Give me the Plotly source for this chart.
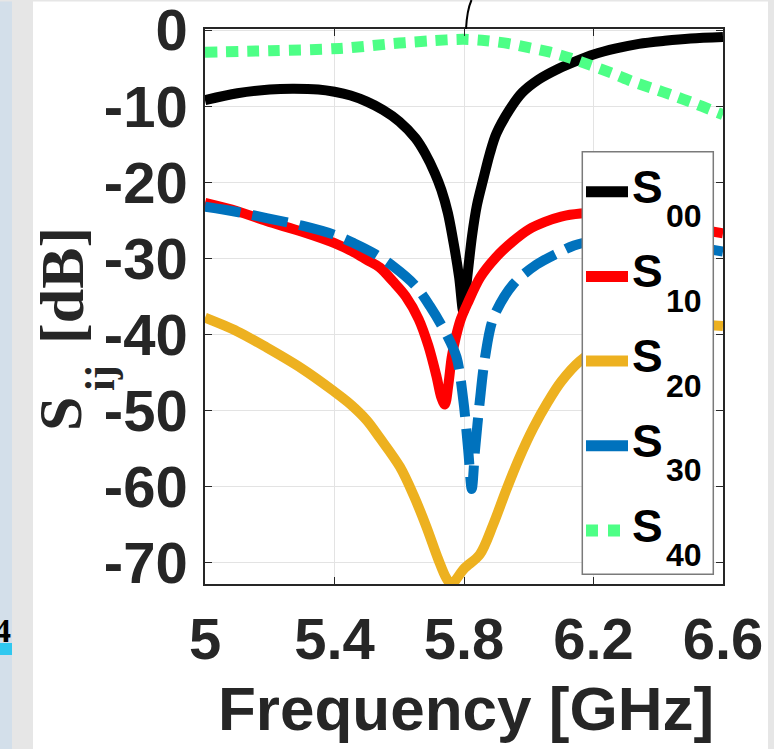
import plotly.graph_objects as go

# ---------------- data ----------------
f_s00 = [5.00, 5.10, 5.20, 5.27, 5.35, 5.40, 5.45, 5.50, 5.55, 5.60, 5.65, 5.68, 5.71, 5.73,
         5.75, 5.77, 5.785, 5.798, 5.81, 5.825, 5.84, 5.86, 5.88, 5.90, 5.94, 5.98, 6.03,
         6.09, 6.15, 6.20, 6.27, 6.34, 6.42, 6.50, 6.60]
s00 = [-9.2, -8.3, -7.8, -7.7, -7.8, -8.1, -8.6, -9.4, -10.5, -12.0, -14.2, -16.2, -18.8, -21.0,
       -24.0, -28.5, -32.5, -37.0, -32.5, -27.0, -23.0, -19.5, -16.2, -13.6, -10.5, -8.2, -6.5,
       -5.1, -4.0, -3.2, -2.4, -1.8, -1.4, -1.1, -0.9]

f_s10 = [5.00, 5.10, 5.19, 5.30, 5.40, 5.46, 5.50, 5.54, 5.58, 5.62, 5.66, 5.69, 5.715, 5.73,
         5.741, 5.752, 5.762, 5.775, 5.79, 5.81, 5.85, 5.90, 5.95, 6.00, 6.05, 6.10, 6.16,
         6.22, 6.30, 6.40, 6.50, 6.60]
s10 = [-22.7, -23.8, -25.1, -26.5, -28.0, -29.2, -30.2, -31.2, -33.0, -35.0, -38.0, -41.5, -45.5, -48.3,
       -49.2, -46.5, -43.0, -40.3, -38.0, -36.0, -32.5, -29.8, -27.8, -26.2, -25.2, -24.5, -24.1,
       -24.0, -24.4, -25.2, -26.0, -26.7]

f_s20 = [5.00, 5.10, 5.19, 5.30, 5.396, 5.45, 5.50, 5.54, 5.602, 5.645, 5.684, 5.72, 5.745, 5.761,
         5.80, 5.849, 5.89, 5.93, 5.97, 6.014, 6.06, 6.10, 6.158, 6.25, 6.35, 6.45, 6.60]
s20 = [-37.8, -39.6, -41.7, -44.5, -47.4, -49.2, -51.3, -53.6, -57.4, -61.2, -65.3, -69.5, -72.0, -72.8,
       -70.8, -68.9, -65.0, -60.5, -56.3, -52.3, -48.8, -46.2, -43.5, -41.0, -39.5, -38.7, -38.9]

f_s30 = [5.00, 5.10, 5.19, 5.30, 5.40, 5.46, 5.52, 5.58, 5.65, 5.695, 5.746, 5.777, 5.798, 5.813,
         5.824, 5.834, 5.849, 5.865, 5.891, 5.952, 6.025, 6.09, 6.14, 6.20, 6.28, 6.38, 6.50, 6.60]
s30 = [-23.2, -23.9, -24.7, -25.7, -26.9, -28.0, -29.3, -31.0, -33.6, -36.3, -40.0, -43.0, -48.7, -55.2,
       -60.3, -55.2, -48.7, -43.0, -37.8, -33.4, -30.8, -29.3, -28.3, -27.7, -27.4, -27.7, -28.4, -29.1]

f_s40 = [5.00, 5.20, 5.417, 5.60, 5.70, 5.80, 5.87, 5.942, 6.00, 6.066, 6.13, 6.19, 6.26, 6.323,
         6.385, 6.446, 6.51, 6.57, 6.60]
s40 = [-2.9, -2.7, -2.4, -1.7, -1.4, -1.2, -1.4, -1.8, -2.3, -2.9, -3.7, -4.6, -5.7, -6.8,
       -7.7, -8.6, -9.6, -10.6, -11.1]

series_names = ["00", "10", "20", "30", "40"]
x_ticks = [5.0, 5.4, 5.8, 6.2, 6.6]
x_ticktext = ["5", "5.4", "5.8", "6.2", "6.6"]
y_ticks = [-70, -60, -50, -40, -30, -20, -10, 0]
y_ticktext = ["-70", "-60", "-50", "-40", "-30", "-20", "-10", "0"]

# ---------------- styling ----------------
W, H = 774, 749
L, R, T, B = 205, 51, 29, 165
PW, PH = W - L - R, H - T - B

def px(x):
    return (x - L) / PW

def py(y):
    return (T + PH - y) / PH

colors = ["#000000", "#FF0000", "#EDB120", "#0072BD", "#4DFF86"]
dashes = ["solid", "solid", "solid", "36px,12px", "12px,9px"]
lw = 10
SANS = "Liberation Sans"
SERIF = "Liberation Serif"
TXT = "#262626"

fig = go.Figure()
xs = [f_s00, f_s10, f_s20, f_s30, f_s40]
ys = [s00, s10, s20, s30, s40]
for i in range(5):
    fig.add_trace(go.Scatter(x=xs[i], y=ys[i], mode="lines",
                             line=dict(color=colors[i], width=lw if i != 4 else 11, dash=dashes[i],
                                       shape="spline", smoothing=0.9),
                             showlegend=False, hoverinfo="skip"))

axis_common = dict(showline=True, linecolor=TXT, linewidth=1.5, mirror="ticks",
                   ticks="inside", ticklen=7, tickwidth=1.2, tickcolor=TXT,
                   showgrid=True, gridcolor="#e3e3e3", gridwidth=1, zeroline=False,
                   ticklabeloverflow="allow", automargin=False,
                   tickfont=dict(family=SANS, size=58, color=TXT, weight="bold"))

fig.update_xaxes(range=[5.0, 6.6], tickmode="array", tickvals=x_ticks, ticktext=x_ticktext,
                 ticklabelstandoff=4, **axis_common)
fig.update_yaxes(range=[-72.8, 0.15], tickmode="array", tickvals=y_ticks, ticktext=y_ticktext,
                 ticklabelstandoff=4, **axis_common)

shapes = []
annotations = []

# background window strips
shapes.append(dict(type="rect", xref="paper", yref="paper", x0=px(0), x1=px(12), y0=py(749), y1=py(0),
                   fillcolor="#d3dfea", line=dict(width=0), layer="below"))
shapes.append(dict(type="rect", xref="paper", yref="paper", x0=px(12), x1=px(33), y0=py(749), y1=py(0),
                   fillcolor="#e6e6e6", line=dict(width=0), layer="below"))
shapes.append(dict(type="rect", xref="paper", yref="paper", x0=px(768), x1=px(774), y0=py(749), y1=py(0),
                   fillcolor="#e6e6e6", line=dict(width=0), layer="below"))
shapes.append(dict(type="rect", xref="paper", yref="paper", x0=px(0), x1=px(774), y0=py(1.5), y1=py(0),
                   fillcolor="#e6e6e6", line=dict(width=0), layer="below"))
shapes.append(dict(type="rect", xref="paper", yref="paper", x0=px(0), x1=px(12), y0=py(655), y1=py(643),
                   fillcolor="#2fc8f0", line=dict(width=0), layer="below"))
annotations.append(dict(text="<b>4</b>", xref="paper", yref="paper", x=px(13), y=py(630),
                        xanchor="right", yanchor="middle", showarrow=False,
                        font=dict(family=SERIF, size=34, color="#000000")))

# thin curve above the axes
shapes.append(dict(type="path", xref="paper", yref="paper",
                   path=f"M {px(466)},{py(29)} Q {px(467)},{py(10)} {px(471.5)},{py(0)}",
                   line=dict(color="#000000", width=2), layer="above"))

# legend box
lx0, lx1, ly0, ly1 = 582.3, 713.3, 151.7, 574.3
shapes.append(dict(type="rect", xref="paper", yref="paper", x0=px(lx0), x1=px(lx1), y0=py(ly1), y1=py(ly0),
                   fillcolor="#ffffff", line=dict(color="#7a7a7a", width=1.5), layer="above"))
for k in range(5):
    yc = 191.7 + 84.7 * k
    shapes.append(dict(type="line", xref="paper", yref="paper", x0=px(586), x1=px(628) if k != 4 else px(620),
                       y0=py(yc), y1=py(yc),
                       line=dict(color=colors[k], width=11 if k != 4 else 12,
                                 dash="solid" if k != 4 else "12px,10px"),
                       layer="above"))
    annotations.append(dict(text="S", xref="paper", yref="paper", x=px(630), y=py(yc - 5),
                            xanchor="left", yanchor="middle", showarrow=False,
                            font=dict(family=SANS, size=46, color="#000000", weight="bold")))
    annotations.append(dict(text=series_names[k], xref="paper", yref="paper", x=px(664), y=py(yc + 24.5),
                            xanchor="left", yanchor="middle", showarrow=False,
                            font=dict(family=SANS, size=32, color="#000000", weight="bold")))

# axis titles
annotations.append(dict(text="Frequency [GHz]", xref="paper", yref="paper", x=px(466), y=py(708),
                        xanchor="center", yanchor="middle", showarrow=False,
                        font=dict(family=SANS, size=62, color=TXT, weight="bold")))
annotations.append(dict(text="S", xref="paper", yref="paper", x=px(60), y=py(414), textangle=-90,
                        xanchor="center", yanchor="middle", showarrow=False,
                        font=dict(family=SERIF, size=62, color=TXT, weight="bold")))
annotations.append(dict(text="ij", xref="paper", yref="paper", x=px(100), y=py(378), textangle=-90,
                        xanchor="center", yanchor="middle", showarrow=False,
                        font=dict(family=SERIF, size=42, color=TXT, weight="bold")))
annotations.append(dict(text="[dB]", xref="paper", yref="paper", x=px(62), y=py(286), textangle=-90,
                        xanchor="center", yanchor="middle", showarrow=False,
                        font=dict(family=SERIF, size=62, color=TXT, weight="bold")))

fig.update_layout(width=W, height=H, autosize=False,
                  margin=dict(l=L, r=R, t=T, b=B, pad=0, autoexpand=False),
                  paper_bgcolor="#ffffff", plot_bgcolor="#ffffff",
                  shapes=shapes, annotations=annotations, showlegend=False)

fig.write_html("out.html")
